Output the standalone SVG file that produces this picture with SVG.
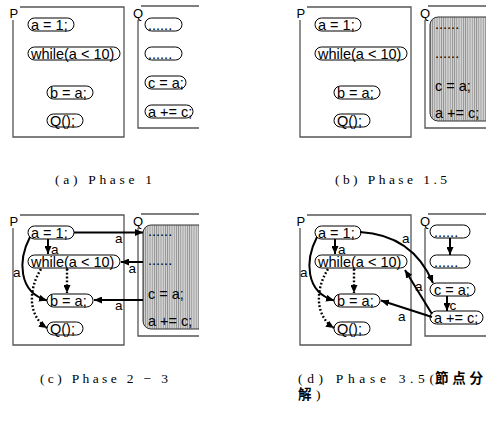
<svg xmlns="http://www.w3.org/2000/svg" width="486" height="424" viewBox="0 0 486 424">
<style>
.box{fill:none;stroke:#555;stroke-width:1.3}
.pill{fill:#fff;stroke:#000;stroke-width:1}
.t{font-family:"Liberation Sans",Arial,sans-serif;font-size:14.5px;fill:#000}
.lt{font-family:"Liberation Sans",Arial,sans-serif;font-size:13px;fill:#000}
.lbl{font-family:"Liberation Sans",Arial,sans-serif;font-size:13.5px;fill:#000}
.e{fill:none;stroke:#000;stroke-width:2;marker-end:url(#ah)}
.d{fill:none;stroke:#000;stroke-width:2.4;stroke-dasharray:1.8 2;marker-end:url(#ah)}
.cap{font-family:"Liberation Serif","Times New Roman",serif;font-size:13.5px;fill:#000}
.cjk{font-family:"Noto Sans CJK JP","Noto Sans CJK SC",sans-serif;font-size:13.5px;font-weight:bold;fill:#000}
.hat{fill:url(#hatch);stroke:#333;stroke-width:1}
</style>
<defs>
<marker id="ah" markerUnits="userSpaceOnUse" markerWidth="8" markerHeight="7" refX="8" refY="3.5" orient="auto"><path d="M0,0 L8,3.5 L0,7 z" fill="#000"/></marker>
<pattern id="hatch" patternUnits="userSpaceOnUse" width="2.2" height="4"><rect width="2.2" height="4" fill="#d4d4d4"/><rect width="0.8" height="4" fill="#8e8e8e"/></pattern>
<clipPath id="cq"><rect x="0" y="0" width="199" height="140"/></clipPath>
</defs>

<!-- Panel (a) -->
<g id="panelA">
  <g id="a-P"><path class="box" d="M20,7H124V137H13V20"/><text class="lt" x="9.5" y="18">P</text></g>
  <g id="a-n1"><rect class="pill" x="28" y="18" width="46" height="13" rx="6.5"/><text class="t" x="31" y="29.5">a = 1;</text></g>
  <g id="a-n2"><rect class="pill" x="28" y="47" width="92" height="13" rx="6.5"/><text class="t" x="31" y="58.5">while(a &lt; 10)</text></g>
  <g id="a-n3"><rect class="pill" x="47" y="86" width="46" height="13" rx="6.5"/><text class="t" x="50" y="97.5">b = a;</text></g>
  <g id="a-n4"><rect class="pill" x="47" y="114" width="36" height="13" rx="6.5"/><text class="t" x="50" y="125.5">Q();</text></g>
  <g clip-path="url(#cq)">
    <g id="a-Q"><path class="box" d="M141,6H220M138,20V128H220"/><text class="lt" x="133" y="18">Q</text></g>
    <g id="a-q1"><rect class="pill" x="145" y="18" width="37" height="13" rx="6.5"/><text class="t" x="148" y="29.5">......</text></g>
    <g id="a-q2"><rect class="pill" x="145" y="47" width="37" height="13" rx="6.5"/><text class="t" x="148" y="58.5">......</text></g>
    <g id="a-q3"><rect class="pill" x="145" y="76" width="41" height="13" rx="6.5"/><text class="t" x="148" y="87.5">c = a;</text></g>
    <g id="a-q4"><rect class="pill" x="145" y="105" width="48" height="13" rx="6.5"/><text class="t" x="148" y="116.5">a += c;</text></g>
  </g>
  <g id="a-edges"></g>
</g>

<!-- Panel (b) -->
<g id="panelB" transform="translate(287,0)">
  <g id="b-P"><path class="box" d="M20,7H124V137H13V20"/><text class="lt" x="9.5" y="18">P</text></g>
  <g id="b-n1"><rect class="pill" x="28" y="18" width="46" height="13" rx="6.5"/><text class="t" x="31" y="29.5">a = 1;</text></g>
  <g id="b-n2"><rect class="pill" x="28" y="47" width="92" height="13" rx="6.5"/><text class="t" x="31" y="58.5">while(a &lt; 10)</text></g>
  <g id="b-n3"><rect class="pill" x="47" y="86" width="46" height="13" rx="6.5"/><text class="t" x="50" y="97.5">b = a;</text></g>
  <g id="b-n4"><rect class="pill" x="47" y="114" width="36" height="13" rx="6.5"/><text class="t" x="50" y="125.5">Q();</text></g>
  <g id="b-Q"><path class="box" d="M141,6H220M138,20V128H220"/><text class="lt" x="133" y="18">Q</text></g>
  <g id="b-qmerged">
    <rect class="hat" x="143" y="17" width="80" height="104" rx="8"/>
    <text class="t" x="148" y="28.5">......</text>
    <text class="t" x="148" y="57.5">......</text>
    <text class="t" x="148" y="91">c = a;</text>
    <text class="t" x="148" y="118">a += c;</text>
  </g>
  <g id="b-edges"></g>
</g>

<!-- Panel (c) -->
<g id="panelC" transform="translate(0,208)">
  <g id="c-P"><path class="box" d="M20,7H124V137H13V20"/><text class="lt" x="9.5" y="18">P</text></g>
  <g id="c-n1"><rect class="pill" x="28" y="18" width="46" height="13" rx="6.5"/><text class="t" x="31" y="29.5">a = 1;</text></g>
  <g id="c-n2"><rect class="pill" x="28" y="47" width="92" height="13" rx="6.5"/><text class="t" x="31" y="58.5">while(a &lt; 10)</text></g>
  <g id="c-n3"><rect class="pill" x="47" y="86" width="46" height="13" rx="6.5"/><text class="t" x="50" y="97.5">b = a;</text></g>
  <g id="c-n4"><rect class="pill" x="47" y="114" width="36" height="13" rx="6.5"/><text class="t" x="50" y="125.5">Q();</text></g>
  <g clip-path="url(#cq)">
    <g id="c-Q"><path class="box" d="M141,6H220M138,20V128H220"/><text class="lt" x="133" y="18">Q</text></g>
    <g id="c-qmerged">
      <rect class="hat" x="143" y="17" width="80" height="104" rx="8"/>
      <text class="t" x="148" y="27.5">......</text>
      <text class="t" x="148" y="56.5">......</text>
      <text class="t" x="148" y="91">c = a;</text>
      <text class="t" x="148" y="117.5">a += c;</text>
    </g>
  </g>
  <g id="c-edges">
    <path class="e" d="M74,24.5H143"/><text class="lbl" x="115" y="35">a</text>
    <path class="e" d="M143,54H121"/><text class="lbl" x="128.5" y="65">a</text>
    <path class="e" d="M143,92H94"/><text class="lbl" x="115" y="102">a</text>
    <path class="e" d="M48,31V46"/><text class="lbl" x="51" y="45.5">a</text>
    <path class="e" d="M30,29C18,52 18,84 47,92.5"/><text class="lbl" x="13" y="69">a</text>
    <path class="d" d="M67,61V85"/>
    <path class="d" d="M41,61C28,82 28,108 47,120"/>
  </g>
</g>

<!-- Panel (d) -->
<g id="panelD" transform="translate(287,208)">
  <g id="d-P"><path class="box" d="M20,7H124V137H13V20"/><text class="lt" x="9.5" y="18">P</text></g>
  <g id="d-n1"><rect class="pill" x="28" y="18" width="46" height="13" rx="6.5"/><text class="t" x="31" y="29.5">a = 1;</text></g>
  <g id="d-n2"><rect class="pill" x="28" y="47" width="92" height="13" rx="6.5"/><text class="t" x="31" y="58.5">while(a &lt; 10)</text></g>
  <g id="d-n3"><rect class="pill" x="47" y="86" width="46" height="13" rx="6.5"/><text class="t" x="50" y="97.5">b = a;</text></g>
  <g id="d-n4"><rect class="pill" x="47" y="114" width="36" height="13" rx="6.5"/><text class="t" x="50" y="125.5">Q();</text></g>
  <g id="d-Q"><path class="box" d="M141,6H220M138,20V128H220"/><text class="lt" x="133" y="18">Q</text></g>
  <g id="d-q1"><rect class="pill" x="143" y="17" width="40" height="13" rx="6.5"/><text class="t" x="147" y="28.5">......</text></g>
  <g id="d-q2"><rect class="pill" x="143" y="47" width="40" height="13" rx="6.5"/><text class="t" x="147" y="58.5">......</text></g>
  <g id="d-q3"><rect class="pill" x="143" y="75" width="45" height="13" rx="6.5"/><text class="t" x="147" y="86.5">c = a;</text></g>
  <g id="d-q4"><rect class="pill" x="143" y="103" width="53" height="13" rx="6.5"/><text class="t" x="147" y="114.5">a += c;</text></g>
  <g id="d-edges">
    <path class="e" d="M48,31V46"/><text class="lbl" x="51" y="45.5">a</text>
    <path class="e" d="M30,29C18,52 18,84 47,92.5"/><text class="lbl" x="13" y="69">a</text>
    <path class="d" d="M67,61V85"/>
    <path class="d" d="M41,61C28,82 28,108 47,120"/>
    <path class="e" d="M73,24C108,26 132,42 146,75"/><text class="lbl" x="115" y="35">a</text>
    <path class="e" d="M145,106L118,62"/><text class="lbl" x="128" y="83">a</text>
    <path class="e" d="M145,109L94,92.5"/><text class="lbl" x="111" y="113">a</text>
    <path class="e" d="M163,30V47"/>
    <path class="e" d="M160,88V103"/><text class="lbl" x="162.5" y="102">c</text>
  </g>
</g>

<!-- Captions -->
<g id="captions">
  <text class="cap" x="55" y="184" textLength="97" lengthAdjust="spacing">(a) Phase 1</text>
  <text class="cap" x="335" y="184" textLength="112" lengthAdjust="spacing">(b) Phase 1.5</text>
  <text class="cap" x="40" y="383" textLength="128" lengthAdjust="spacing">(c) Phase 2 − 3</text>
  <text class="cap" x="298" y="383" textLength="136" lengthAdjust="spacing">(d) Phase 3.5(</text>
  <text class="cjk" x="435" y="383" textLength="48" lengthAdjust="spacing">節点分</text>
  <text class="cjk" x="298" y="399">解</text>
  <text class="cap" x="316" y="399">)</text>
</g>
</svg>
